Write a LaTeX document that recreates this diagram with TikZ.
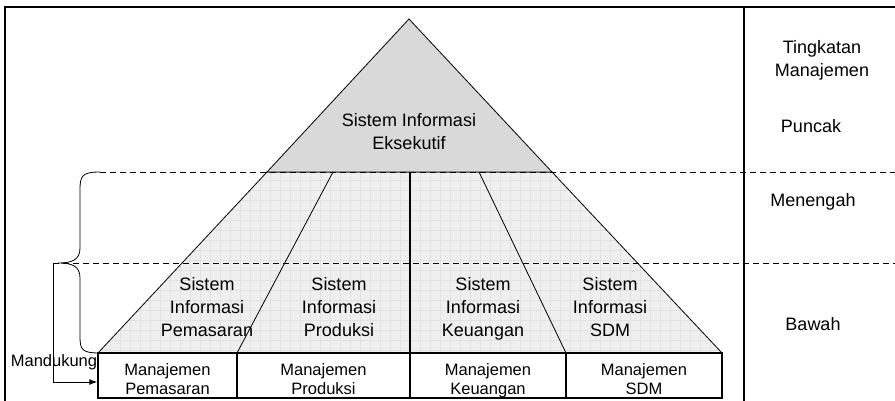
\documentclass[tikz,border=0pt]{standalone}
\usepackage{fontspec}
\setmainfont{Liberation Sans}
\usetikzlibrary{arrows.meta}
\definecolor{topgray}{HTML}{D9D9D9}
\definecolor{lowgray}{HTML}{EFEFEF}
\definecolor{gridgray}{HTML}{E2E2E2}
\begin{document}
\begin{tikzpicture}[x=1pt, y=-1pt,
	lbl/.style = {align=center, font=\fontsize{18}{23}\selectfont, inner sep=0pt, anchor=north},
	boxlbl/.style = {align=center, font=\fontsize{16.5}{19}\selectfont, inner sep=0pt, anchor=north},
	levelline/.style = {dash pattern=on 6pt off 4pt, line width=0.9pt},
	box/.style = {draw, line width=1.4pt, minimum height=45pt, inner sep=0pt}]

	\useasboundingbox (0,0) rectangle (895,401);

	% frame
	\draw[line width=1.2pt] (5,401) -- (5,7) -- (895,7);
	\draw[line width=1.2pt] (744,7) -- (744,401);

	% pyramid
	\coordinate (apex) at (409,19);
	\coordinate (midL) at (267,172);
	\coordinate (midR) at (552,172);
	\coordinate (botL) at (98,353);
	\coordinate (botR) at (722,353);
	\fill[lowgray] (midL) -- (midR) -- (botR) -- (botL) -- cycle;
	\begin{scope}
		\clip (midL) -- (midR) -- (botR) -- (botL) -- cycle;
		\draw[gridgray, line width=0.6pt] (90,170) grid[step=10pt] (730,360);
	\end{scope}
	\draw[line width=0.8pt] (midL) -- (midR) -- (botR) -- (botL) -- cycle;
	\filldraw[fill=topgray, draw=black, line width=0.8pt] (apex) -- (midR) -- (midL) -- cycle;

	\draw[line width=0.8pt] (333,172) -- (237,353);
	\draw[line width=1.4pt] (410,172) -- (410,353);
	\draw[line width=0.8pt] (479,172) -- (566,353);

	% level lines
	\coordinate (mandk) at (53,263);
	\draw[levelline] (100,172) -- (895,172);
	\draw[levelline] (mandk) -- (895,263);

	% brace
	\draw[line width=0.8pt] (100,172) .. controls (82,172) and (80,176) .. (80,190)
		-- (80,248) .. controls (80,260) and (72,263) .. (58,263)
		.. controls (72,263) and (80,266) .. (80,278)
		-- (80,336) .. controls (80,350) and (82,353) .. (100,353);

	% bottom boxes
	\node[box, minimum width=139pt] (bpem) at (167.5,375.5) {};
	\node[box, minimum width=173pt] (bprod) at (323.5,375.5) {};
	\node[box, minimum width=156pt] (bkeu) at (488,375.5) {};
	\node[box, minimum width=156pt] (bsdm) at (644,375.5) {};

	\node[boxlbl] (tpem) at (167.5,363) {Manajemen\\Pemasaran};
	\node[boxlbl] (tprod) at (323.5,363) {Manajemen\\Produksi};
	\node[boxlbl] (tkeu) at (488,363) {Manajemen\\Keuangan};
	\node[boxlbl] (tsdm) at (644,363) {Manajemen\\SDM};

	% pyramid texts
	\node[lbl] (sie) at (409,113) {Sistem Informasi\\Eksekutif};
	\node[lbl] (sipem) at (207,277) {Sistem\\Informasi\\Pemasaran};
	\node[lbl] (siprod) at (339,277) {Sistem\\Informasi\\Produksi};
	\node[lbl] (sikeu) at (483,277) {Sistem\\Informasi\\Keuangan};
	\node[lbl] (sisdm) at (610,277) {Sistem\\Informasi\\SDM};

	% levels
	\node[lbl] (tingkat) at (822,40) {Tingkatan\\Manajemen};
	\node[lbl] (puncak) at (811,119) {Puncak};
	\node[lbl] (menengah) at (813,193) {Menengah};
	\node[lbl] (bawah) at (813,317) {Bawah};

	% support arrow
	\node[boxlbl] (mand) at (54,354) {Mandukung};
	\draw[line width=1pt, -{Latex[length=8pt, width=6pt]}] (mandk) |- ([yshift=-6.5pt]bpem.west);
\end{tikzpicture}
\end{document}
